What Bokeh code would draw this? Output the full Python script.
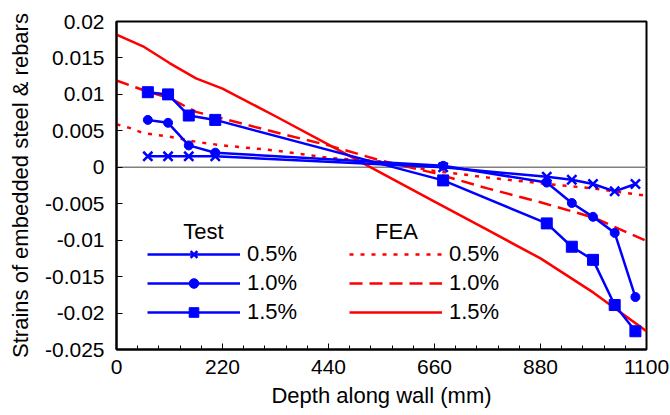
from bokeh.plotting import figure
from bokeh.models import (FixedTicker, CustomJSTickFormatter, Span, Legend,
                          LegendItem, Label, Range1d)
from bokeh.embed import file_html
from bokeh.resources import INLINE

# ---- data ----
test_depth = [65, 107, 150, 205, 678, 893, 945, 989, 1034, 1077]
test_05 = [0.0015, 0.0015, 0.0015, 0.0015, 0.0000, -0.0013, -0.0017, -0.0023, -0.0033, -0.0023]
test_10 = [0.0065, 0.0061, 0.0030, 0.0020, 0.0002, -0.0021, -0.0049, -0.0068, -0.0090, -0.0178]
test_15 = [0.0103, 0.0100, 0.0071, 0.0065, -0.0018, -0.0077, -0.0109, -0.0127, -0.0189, -0.0225]

fea_depth_05 = [0, 27, 55, 110, 165, 220, 330, 440, 550, 660, 770, 880, 990, 1100]
fea_05 = [0.0059, 0.0054, 0.0047, 0.0042, 0.0035, 0.0030, 0.0023, 0.0013, 0.0008, -0.0005,
          -0.0014, -0.0022, -0.0029, -0.0039]
fea_depth = [0, 55, 110, 165, 220, 330, 440, 550, 660, 770, 880, 990, 1100]
fea_10 = [0.0119, 0.0106, 0.0095, 0.0076, 0.0067, 0.0048, 0.0030, 0.0009, -0.0008, -0.0029,
          -0.0048, -0.0069, -0.0101]
fea_15 = [0.0182, 0.0166, 0.0143, 0.0122, 0.0108, 0.0070, 0.0031, -0.0008, -0.0047, -0.0086,
          -0.0125, -0.0172, -0.0225]

series_labels = ["0.5%", "1.0%", "1.5%"]
x_ticks = [0, 220, 440, 660, 880, 1100]
x_minor_ticks = [44 * i for i in range(26)]
y_ticks = [0.02, 0.015, 0.01, 0.005, 0, -0.005, -0.01, -0.015, -0.02, -0.025]

FONT = "Liberation Sans"
BLUE = "#0000FF"
RED = "#FF0000"

p = figure(width=670, height=415, output_backend="svg", toolbar_location=None,
           x_range=Range1d(0, 1100), y_range=Range1d(-0.025, 0.02),
           min_border_left=116, min_border_right=24, min_border_top=21, min_border_bottom=66)
p.background_fill_color = "white"
p.border_fill_color = "white"
p.grid.visible = False
p.outline_line_color = "black"
p.outline_line_width = 2

# axes
xa = p.xaxis[0]
ya = p.yaxis[0]
xa.ticker = FixedTicker(ticks=x_ticks, minor_ticks=x_minor_ticks)
ya.ticker = FixedTicker(ticks=y_ticks, minor_ticks=[])
ya.formatter = CustomJSTickFormatter(code="return Number(tick.toFixed(3)).toString();")
for ax in (xa, ya):
    ax.axis_line_color = "black"
    ax.axis_line_width = 2
    ax.major_tick_in = 6
    ax.major_tick_out = 0
    ax.major_tick_line_color = "black"
    ax.major_tick_line_width = 1
    ax.minor_tick_in = 4
    ax.minor_tick_out = 0
    ax.minor_tick_line_color = "black"
    ax.major_label_text_font = FONT
    ax.major_label_text_font_size = "21px"
    ax.major_label_text_color = "black"
    ax.axis_label_text_font = FONT
    ax.axis_label_text_font_size = "22px"
    ax.axis_label_text_font_style = "normal"
    ax.axis_label_text_color = "black"
xa.axis_label = "Depth along wall (mm)"
ya.axis_label = "Strains of embedded steel & rebars"
xa.major_label_standoff = 10
ya.major_label_standoff = 12
xa.axis_label_standoff = 6
ya.axis_label_standoff = 9

# zero line
p.add_layout(Span(location=0, dimension="width", line_color="#808080",
                  line_width=1.5, level="underlay"))

# FEA lines
f05 = p.line(fea_depth_05, fea_05, line_color=RED, line_width=2.5, line_dash="4 7")
f10 = p.line(fea_depth, fea_10, line_color=RED, line_width=2.5, line_dash="13 7")
f15 = p.line(fea_depth, fea_15, line_color=RED, line_width=2.5)

# Test lines with markers
t05l = p.line(test_depth, test_05, line_color=BLUE, line_width=2.5)
t05m = p.scatter(test_depth, test_05, marker="x", size=13, line_color=BLUE, line_width=2.5)
t10l = p.line(test_depth, test_10, line_color=BLUE, line_width=2.5)
t10m = p.scatter(test_depth, test_10, marker="circle", size=9, fill_color=BLUE, line_color=BLUE)
t15l = p.line(test_depth, test_15, line_color=BLUE, line_width=2.5)
t15m = p.scatter(test_depth, test_15, marker="square", size=11, fill_color=BLUE, line_color=BLUE)

def make_legend(items, loc):
    lg = Legend(items=items, location=loc, orientation="vertical",
                glyph_width=93, glyph_height=24, label_height=24, label_standoff=7,
                spacing=3, padding=0, margin=0,
                border_line_alpha=0, background_fill_alpha=0,
                label_text_font=FONT, label_text_font_size="22px",
                label_text_color="black")
    return lg

leg_test = make_legend([
    LegendItem(label=series_labels[0], renderers=[t05l, t05m]),
    LegendItem(label=series_labels[1], renderers=[t10l, t10m]),
    LegendItem(label=series_labels[2], renderers=[t15l, t15m]),
], (31, 24))
leg_fea = make_legend([
    LegendItem(label=series_labels[0], renderers=[f05]),
    LegendItem(label=series_labels[1], renderers=[f10]),
    LegendItem(label=series_labels[2], renderers=[f15]),
], (233, 24))
p.add_layout(leg_test)
p.add_layout(leg_fea)

for txt, sx in (("Test", 87), ("FEA", 280)):
    p.add_layout(Label(x=sx, y=118, x_units="screen", y_units="screen", text=txt,
                       text_align="center", text_baseline="alphabetic",
                       text_font=FONT, text_font_size="22px", text_color="black"))

open("out.html", "w").write(file_html(p, INLINE))
